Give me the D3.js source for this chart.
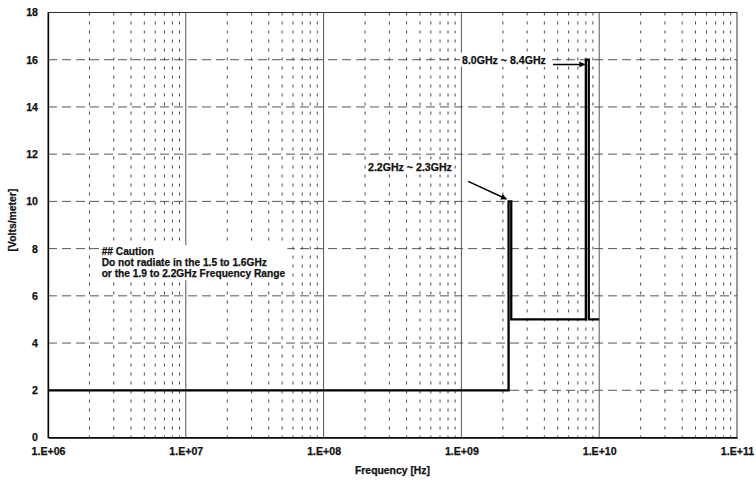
<!DOCTYPE html>
<html>
<head>
<meta charset="utf-8">
<script src="https://cdn.jsdelivr.net/npm/d3@7/dist/d3.min.js"></script>
<style>
  html, body { margin: 0; padding: 0; background: #fff; }
  svg { display: block; }
  text { font-family: "Liberation Sans", Arial, sans-serif; font-weight: bold; fill: #111; }
  .heavy { stroke: #111; stroke-width: 0.25px; }
</style>
</head>
<body>
<svg id="chart" width="756" height="482"></svg>
<script>
// Immunity limit (field strength) versus frequency, drawn as a step line.
const freqHz  = [1e6, 2.2e9, 2.2e9, 2.3e9, 2.3e9, 8.0e9, 8.0e9, 8.4e9, 8.4e9, 1e10];
const fieldVm = [2,   2,     10,    10,    5,     5,     16,    16,    5,     5];

// Axis ticks and labels
const xDecades    = [1e6, 1e7, 1e8, 1e9, 1e10, 1e11];
const xTickLabels = ["1.E+06", "1.E+07", "1.E+08", "1.E+09", "1.E+10", "1.E+11"];
const yTicks      = [0, 2, 4, 6, 8, 10, 12, 14, 16, 18];
const minorSteps  = [2, 3, 4, 5, 6, 7, 8, 9];

// Band call-outs (positions in data units)
const bandNotes = [
  { text: "8.0GHz ~ 8.4GHz", tx: 1.01e9, ty: 15.95, from: [4.62e9, 15.8], to: [7.85e9, 15.8] },
  { text: "2.2GHz ~ 2.3GHz", tx: 2.1e8,  ty: 11.41, from: [1.12e9, 10.85], to: [2.12e9, 10.1] }
];
const cautionLines = [
  "## Caution",
  "Do not radiate in the 1.5 to 1.6GHz",
  "or the 1.9 to 2.2GHz Frequency Range"
];

const svg = d3.select("#chart");
const margin = { top: 12.5, right: 19, bottom: 44.5, left: 48 };
const W = 756, H = 482;

const x = d3.scaleLog().domain([1e6, 1e11]).range([margin.left, W - margin.right]);
const y = d3.scaleLinear().domain([0, 18]).range([H - margin.bottom, margin.top]);

const g = svg.append("g");

// Minor vertical gridlines (2..9 within each decade)
const minorFreqs = [];
xDecades.slice(0, -1).forEach(d => minorSteps.forEach(k => minorFreqs.push(d * k)));
g.append("g").selectAll("line").data(minorFreqs).join("line")
  .attr("x1", d => x(d)).attr("x2", d => x(d))
  .attr("y1", y(18)).attr("y2", y(0))
  .attr("stroke", "#333").attr("stroke-width", 0.9)
  .attr("stroke-dasharray", "3,6");

// Decade gridlines
g.append("g").selectAll("line").data(xDecades.slice(1, -1)).join("line")
  .attr("x1", d => x(d)).attr("x2", d => x(d))
  .attr("y1", y(18)).attr("y2", y(0))
  .attr("stroke", "#555").attr("stroke-width", 1);

// Horizontal gridlines
g.append("g").selectAll("line").data(yTicks.slice(1, -1)).join("line")
  .attr("x1", x(1e6)).attr("x2", x(1e11))
  .attr("y1", d => y(d)).attr("y2", d => y(d))
  .attr("stroke", "#444").attr("stroke-width", 0.9)
  .attr("stroke-dasharray", "9,5");

// Plot frame
g.append("rect")
  .attr("x", x(1e6)).attr("y", y(18))
  .attr("width", x(1e11) - x(1e6)).attr("height", y(0) - y(18))
  .attr("fill", "none").attr("stroke", "#333").attr("stroke-width", 1);

// Axes
const tickFont = "10.6px";
const xAxis = d3.axisBottom(x).tickValues(xDecades)
  .tickFormat((d, i) => xTickLabels[i]).tickSize(0).tickPadding(10);
const gx = g.append("g").attr("transform", `translate(0,${y(0)})`).call(xAxis);
gx.select(".domain").attr("stroke", "#000").attr("stroke-width", 1.3);
gx.selectAll("text").attr("class", "heavy").style("font-size", tickFont)
  .style("font-family", "'Liberation Sans', Arial, sans-serif").style("font-weight", "bold");

const yAxis = d3.axisLeft(y).tickValues(yTicks).tickSize(0).tickPadding(10);
const gy = g.append("g").attr("transform", `translate(${x(1e6)},0)`).call(yAxis);
gy.select(".domain").attr("stroke", "#000").attr("stroke-width", 1.3);
gy.selectAll("text").attr("class", "heavy").style("font-size", tickFont)
  .style("font-family", "'Liberation Sans', Arial, sans-serif").style("font-weight", "bold");

// Axis titles
svg.append("text").attr("class", "heavy")
  .attr("x", (x(1e6) + x(1e11)) / 2).attr("y", H - 8)
  .attr("text-anchor", "middle").style("font-size", "10.4px")
  .text("Frequency [Hz]");
svg.append("text").attr("class", "heavy")
  .attr("transform", `translate(16,${(y(0) + y(18)) / 2 - 5}) rotate(-90)`)
  .attr("text-anchor", "middle").style("font-size", "10.4px")
  .text("[Volts/meter]");

// Limit line
const pts = freqHz.map((f, i) => [f, fieldVm[i]]);
const line = d3.line().x(d => x(d[0])).y(d => y(d[1]));
g.append("path").datum(pts)
  .attr("d", line)
  .attr("fill", "none").attr("stroke", "#000")
  .attr("stroke-width", 2.3).attr("stroke-linejoin", "miter");

// Arrowhead
svg.append("defs").append("marker")
  .attr("id", "head").attr("viewBox", "0 0 10 10")
  .attr("refX", 9).attr("refY", 5)
  .attr("markerWidth", 6).attr("markerHeight", 6)
  .attr("markerUnits", "userSpaceOnUse")
  .attr("orient", "auto")
  .append("path").attr("d", "M0,0 L10,5 L0,10 Z").attr("fill", "#000");

// Text with an opaque white box behind it, so gridlines break around it
function boxed(parent, build) {
  const grp = parent.append("g");
  const bg = grp.append("rect").attr("fill", "#fff");
  const t = build(grp);
  const b = t.node().getBBox();
  bg.attr("x", b.x - 2).attr("y", b.y - 1)
    .attr("width", b.width + 4).attr("height", b.height + 2);
  return grp;
}

// Band call-outs
const notes = g.append("g");
bandNotes.forEach(n => {
  boxed(notes, p => p.append("text").attr("class", "heavy")
    .attr("x", x(n.tx)).attr("y", y(n.ty))
    .attr("dominant-baseline", "middle")
    .style("font-size", "10.6px")
    .text(n.text));
  notes.append("line")
    .attr("x1", x(n.from[0])).attr("y1", y(n.from[1]))
    .attr("x2", x(n.to[0])).attr("y2", y(n.to[1]))
    .attr("stroke", "#000").attr("stroke-width", 1.5)
    .attr("marker-end", "url(#head)");
});

// Caution note
const cx = x(2.45e6);
boxed(g, p => {
  const t = p.append("text").attr("class", "heavy")
    .attr("x", cx).attr("y", y(7.72))
    .style("font-size", "10.2px");
  t.selectAll("tspan").data(cautionLines).join("tspan")
    .attr("x", cx).attr("dy", (d, i) => i === 0 ? 0 : 11)
    .text(d => d);
  return t;
});
</script>
</body>
</html>
